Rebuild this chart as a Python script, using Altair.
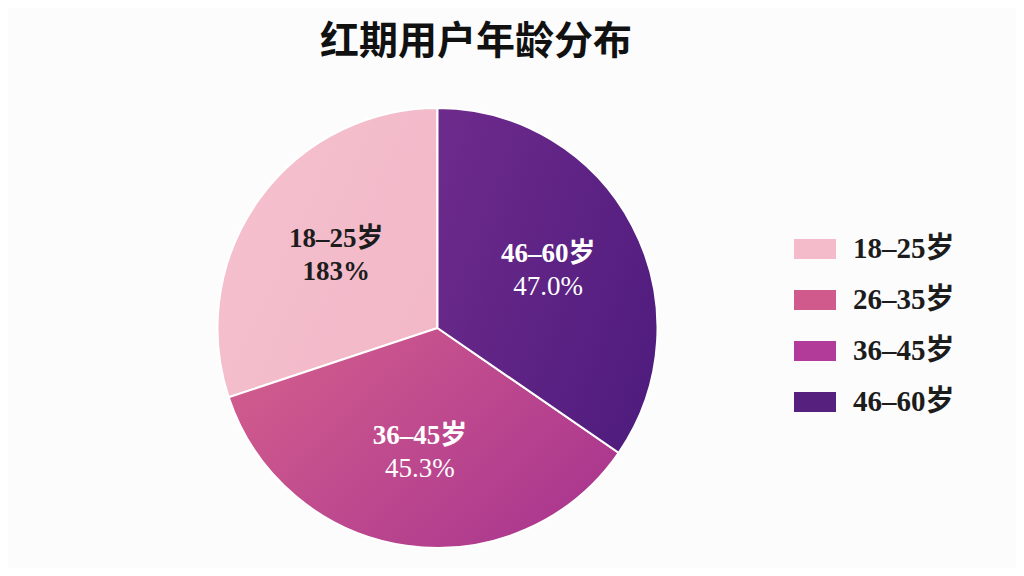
import altair as alt
import pandas as pd

# slices as drawn (clockwise from 12 o'clock: 46-60, 36-45, 26-35, 18-25)
ages = ["18–25岁", "26–35岁", "36–45岁", "46–60岁"]
shares = [30.1, 0.0, 35.3, 34.6]
pct_labels = ["183%", "", "45.3%", "47.0%"]
draw_order = [4, 3, 2, 1]
legend_colors = ["#f4bccb", "#d05a8c", "#b23a98", "#56207f"]

df = pd.DataFrame({"age": ages, "share": shares, "pct": pct_labels, "ord": draw_order})

SERIF = "Liberation Serif, Noto Sans CJK SC"
SERIF_REG = "Times New Roman"


def grad(c1, c2):
    return {
        "gradient": "linear", "x1": 0, "y1": 0.2, "x2": 1, "y2": 0.8,
        "stops": [{"offset": 0, "color": c1}, {"offset": 1, "color": c2}],
    }


slice_fill = alt.when(alt.datum.age == ages[0]).then(
    alt.value(grad("#f5c0ce", "#f2b8c8"))
).when(alt.datum.age == ages[2]).then(
    alt.value(grad("#d25d8d", "#a9358f"))
).otherwise(
    alt.value(grad("#6c2a8b", "#4f1c7e"))
)

theta_scale = alt.Scale(domain=[0, 100])
cx, cy = 429.5, 240

base = alt.Chart(df).transform_stack(
    stack="share", groupby=[], as_=["s0", "s1"], sort=[alt.SortField("ord")]
).transform_calculate(mid="(datum.s0 + datum.s1) / 2")

arcs = base.mark_arc(radius=220, stroke="white", strokeWidth=2).encode(
    theta=alt.Theta("s0:Q", scale=theta_scale, stack=None),
    theta2="s1:Q",
    x=alt.value(cx),
    y=alt.value(cy),
    color=alt.Color(
        "age:N",
        scale=alt.Scale(domain=ages, range=legend_colors),
        legend=alt.Legend(
            title=None, orient="none", legendX=786, legendY=140,
            symbolType="M-1,-0.476H1V0.476H-1Z", symbolSize=1764,
            symbolStrokeWidth=0, symbolOpacity=1,
            labelFont=SERIF, labelFontSize=29, labelFontWeight="bold",
            labelColor="#1c1c1c", labelOffset=17, rowPadding=15, padding=0,
        ),
    ),
)

overlay = base.transform_filter("datum.share > 0").mark_arc(
    radius=220, stroke="white", strokeWidth=2
).encode(
    theta=alt.Theta("s0:Q", scale=theta_scale, stack=None),
    theta2="s1:Q",
    x=alt.value(cx),
    y=alt.value(cy),
    fill=slice_fill,
)

text_color = alt.when(alt.datum.age == ages[0]).then(alt.value("#1c1c1c")).otherwise(alt.value("white"))

line1 = base.transform_filter("datum.share > 0").mark_text(
    radius=125, dy=-16, font=SERIF, fontSize=27, fontWeight="bold", baseline="middle"
).encode(
    theta=alt.Theta("mid:Q", scale=theta_scale, stack=None),
    x=alt.value(cx),
    y=alt.value(cy),
    text="age:N",
    color=text_color,
)

line2_dark = base.transform_filter(alt.datum.age == ages[0]).mark_text(
    radius=125, dy=17, font=SERIF, fontSize=27, fontWeight="bold", baseline="middle", color="#1c1c1c"
).encode(
    theta=alt.Theta("mid:Q", scale=theta_scale, stack=None),
    x=alt.value(cx),
    y=alt.value(cy),
    text="pct:N",
)

line2_light = base.transform_filter(
    (alt.datum.share > 0) & (alt.datum.age != ages[0])
).mark_text(
    radius=125, dy=17, font=SERIF_REG, fontSize=27, baseline="middle", color="white"
).encode(
    theta=alt.Theta("mid:Q", scale=theta_scale, stack=None),
    x=alt.value(cx),
    y=alt.value(cy),
    text="pct:N",
)

chart = alt.layer(arcs, overlay, line1, line2_dark, line2_light).properties(
    width=1008,
    height=480,
    autosize=alt.AutoSizeParams(type="none"),
    padding={"left": 0, "top": 80, "right": 0, "bottom": 0},
    background="#fcfcfc",
    title=alt.Title(
        "红期用户年龄分布", font="Noto Sans CJK SC", fontSize=39, fontWeight="bold",
        color="#111111", anchor="middle", dx=-36, offset=26,
    ),
).configure_view(stroke=None)

chart.save("out.html", embed_options={"renderer": "svg", "actions": False})
